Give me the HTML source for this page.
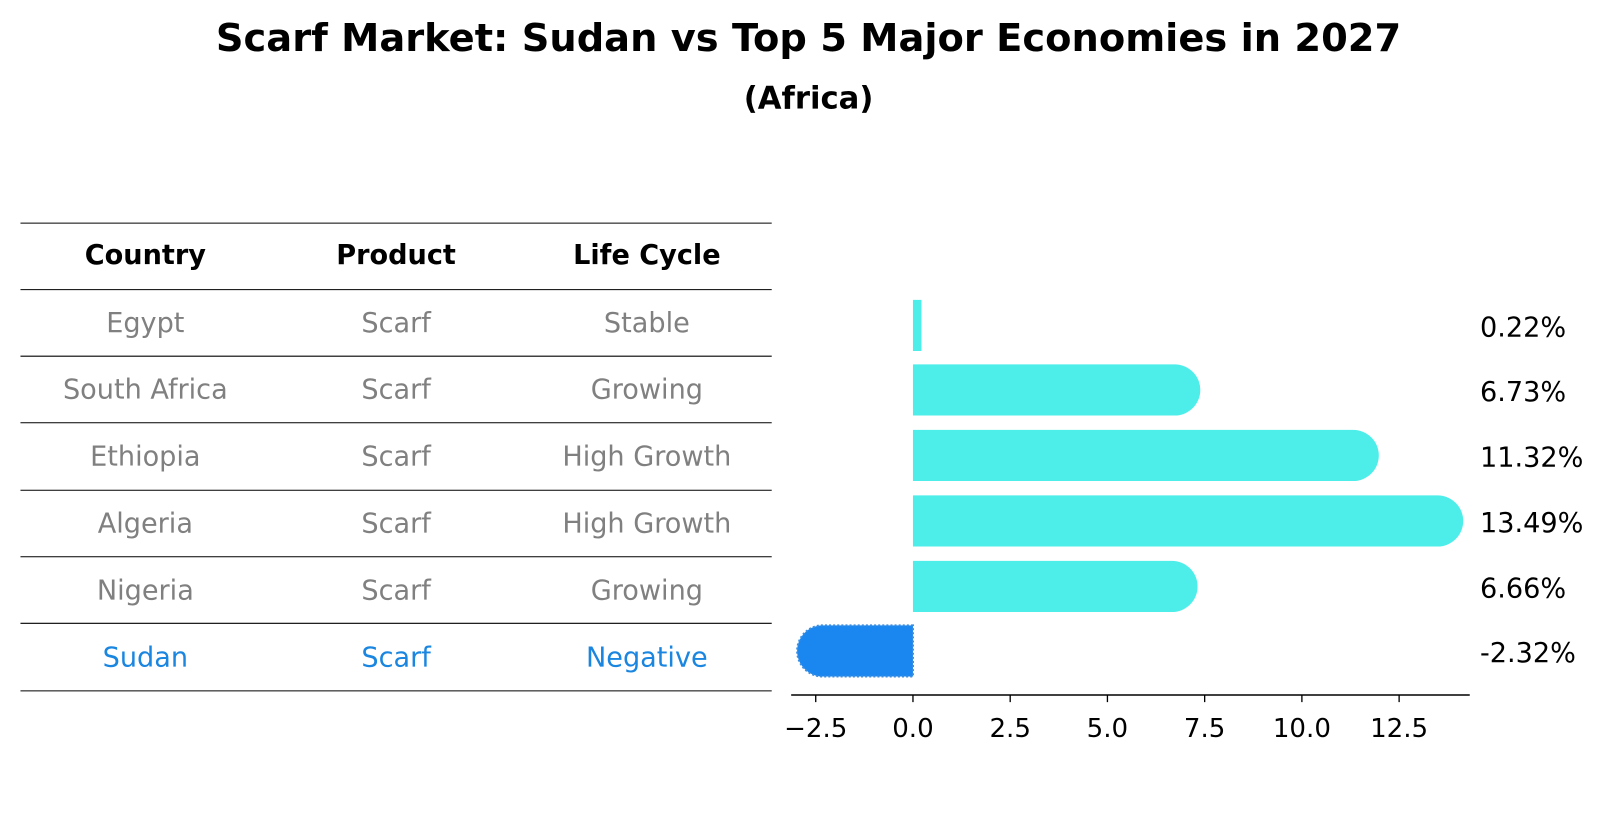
<!DOCTYPE html>
<html><head><meta charset="utf-8"><style>
body{margin:0;background:#fff;font-family:"DejaVu Sans","Liberation Sans",sans-serif;}
</style></head><body>
<svg width="1604" height="823" xmlns="http://www.w3.org/2000/svg" font-family="DejaVu Sans, Liberation Sans, sans-serif">
<g transform="scale(1.0235)">
<text x="790" y="50" text-anchor="middle" font-size="37.5" font-weight="bold">Scarf Market: Sudan vs Top 5 Major Economies in 2027</text>
<text x="790" y="106" text-anchor="middle" font-size="30" font-weight="bold">(Africa)</text>
<g id="table"></g>
<g id="bars"></g>
</g>
</svg>
<script>
const countries=["Egypt","South Africa","Ethiopia","Algeria","Nigeria","Sudan"];
const products=["Scarf","Scarf","Scarf","Scarf","Scarf","Scarf"];
const cycles=["Stable","Growing","High Growth","High Growth","Growing","Negative"];
const values=[0.22,6.73,11.32,13.49,6.66,-2.32];
const ticks=[-2.5,0,2.5,5,7.5,10,12.5];
const NS="http://www.w3.org/2000/svg";
function mk(t,a,p,txt){const e=document.createElementNS(NS,t);for(const k in a)e.setAttribute(k,a[k]);if(txt!==undefined)e.textContent=txt;p.appendChild(e);return e;}
const tb=document.getElementById('table');
const lineYs=[218,283,348,413,479,544,609,675];
lineYs.forEach((y,i)=>{const l=mk('line',{x1:20,x2:754,y1:y,y2:y,stroke:'#000','stroke-width':1},tb);

});
const colX=[142,387,632];
["Country","Product","Life Cycle"].forEach((h,i)=>{const t=mk('text',{x:colX[i],y:258,'text-anchor':'middle','font-size':26.5,'font-weight':'bold'},tb,h);

});
countries.forEach((c,r)=>{const y=(lineYs[r+1]+lineYs[r+2])/2+9;const col=c==="Sudan"?"#1a86e0":"#808080";
[c,products[r],cycles[r]].forEach((v,i)=>{const t=mk('text',{x:colX[i],y:y,'text-anchor':'middle','font-size':26.5,fill:col},tb,v);

});});
const bg=document.getElementById('bars');
const x0=892,sc=38;const X=v=>x0+v*sc;
const rowY=[318,381,445,509,573,636];const h=50,r=25;
values.forEach((v,i)=>{const yc=rowY[i],yt=yc-h/2,xe=X(v);let d;
if(Math.abs(v)<1){d=`M${x0},${yt}H${xe}V${yt+h}H${x0}Z`;}
else if(v>0){d=`M${x0},${yt}H${xe}A${r},${r} 0 0 1 ${xe},${yt+h}H${x0}Z`;}
else{d=`M${x0},${yt}H${xe}A${r},${r} 0 0 0 ${xe},${yt+h}H${x0}Z`;}
const neg=v<0;
const p=mk('path',{d:d,fill:neg?'#1a86f0':'#4deeea',stroke:neg?'#3b8ee0':'none','stroke-dasharray':neg?'2,2':'','stroke-width':neg?2:0},bg);


const t=mk('text',{x:1446,y:yc+11,'font-size':26.5},bg,v.toFixed(2)+'%');

});
const ax=mk('line',{x1:773,x2:1436,y1:679,y2:679,stroke:'#000','stroke-width':1.5},bg);


ticks.forEach(t=>{const x=X(t);const l=mk('line',{x1:x,x2:x,y1:679,y2:686,stroke:'#000','stroke-width':1.3},bg);


const tx=mk('text',{x:x,y:720,'text-anchor':'middle','font-size':25.5},bg,(t<0?'\u2212':'')+Math.abs(t).toFixed(1));

});
</script>
</body></html>
